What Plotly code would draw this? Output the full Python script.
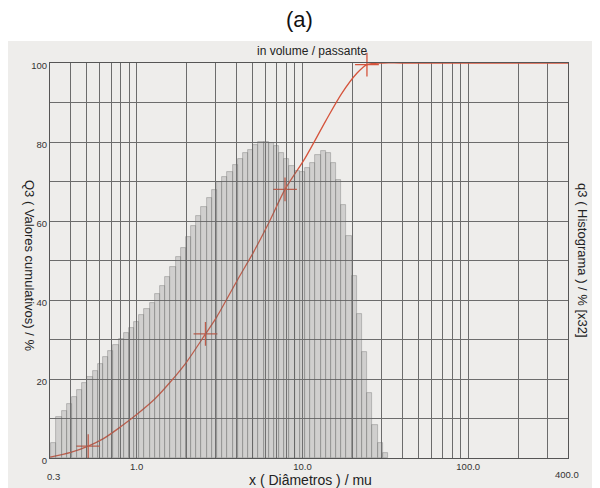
import math
import plotly.graph_objects as go

# ---- data ----
# class boundaries of the histogram (micrometres)
class_edges = [0.305, 0.3278, 0.3522, 0.3785, 0.4067, 0.4371, 0.4697, 0.5047, 0.5424, 0.5829,
               0.6263, 0.6730, 0.7233, 0.7772, 0.8352, 0.8975, 0.9645, 1.0365, 1.1138, 1.1969,
               1.2862, 1.3821, 1.4853, 1.5961, 1.7151, 1.8431, 1.9806, 2.1284, 2.2872, 2.4578,
               2.6412, 2.8382, 3.05, 3.278, 3.522, 3.785, 4.067, 4.371, 4.697, 5.047,
               5.424, 5.829, 6.263, 6.730, 7.233, 7.772, 8.352, 8.975, 9.645, 10.365,
               11.138, 11.969, 12.862, 13.821, 14.853, 15.961, 17.151, 18.431, 19.806, 21.284,
               22.872, 24.578, 26.412, 28.382, 30.5, 32.78]
# histogram heights q3 (% , x32)
q3_hist = [3.8, 10.4, 12.0, 13.7, 15.4, 17.2, 18.9, 20.5, 22.1, 23.8,
           25.5, 27.2, 28.7, 30.2, 31.6, 33.0, 34.5, 36.1, 37.6, 39.3,
           41.5, 43.6, 45.7, 48.4, 50.8, 53.2, 56.0, 58.7, 61.2, 63.6,
           65.7, 67.8, 70.0, 71.1, 72.5, 74.2, 75.6, 77.1, 78.1, 79.2,
           79.9, 80.1, 79.8, 79.0, 77.3, 75.6, 73.8, 72.7, 72.5, 73.3,
           74.8, 76.7, 77.7, 77.1, 74.6, 70.4, 64.1, 56.2, 46.0, 36.5,
           26.8, 16.4, 8.4, 3.7, 1.2]
# cumulative curve Q3 (%)
curve_x = [0.3, 0.4, 0.51, 0.63, 0.8, 1.0, 1.29, 1.6, 2.0, 2.6, 3.05, 4.07, 5.05,
           6.26, 7.85, 10.4, 13.8, 17.2, 21.3, 24.5, 30.5, 40, 400]
curve_q3 = [0.2, 1.4, 3.0, 4.9, 7.9, 11.0, 15.0, 19.3, 24.3, 31.4, 35.8, 45.2, 52.0,
            59.5, 68.0, 76.0, 85.3, 92.2, 97.4, 99.6, 100, 100, 100]
marker_x = [0.51, 2.6, 7.85, 24.5]
marker_q3 = [3.0, 31.4, 68.0, 99.6]

grid_x = [0.4, 0.5, 0.6, 0.7, 0.8, 0.9, 1, 2, 3, 4, 5, 6, 7, 8, 9,
          10, 20, 30, 40, 50, 60, 70, 80, 90, 100, 200, 300]
x_labels = {1: "1.0", 10: "10.0", 100: "100.0"}
grid_y = [0, 10, 20, 30, 40, 50, 60, 70, 80, 90, 100]
y_labels = {0: "0", 20: "20", 40: "40", 60: "60", 80: "80", 100: "100"}

X_MIN, X_MAX = 0.3, 400

# ---- figure ----
FONT = "Liberation Sans, Arial, sans-serif"
PAPER = "#eeedeb"
GRID = "#6c6c6c"
RED = "#d5543c"

log_edges = [math.log10(e) for e in class_edges]
bar_centers = [(a + b) / 2 for a, b in zip(log_edges[:-1], log_edges[1:])]
bar_widths = [b - a for a, b in zip(log_edges[:-1], log_edges[1:])]

fig = go.Figure()
fig.add_trace(go.Bar(
    x=bar_centers, y=q3_hist, width=bar_widths, xaxis="x2", yaxis="y",
    marker=dict(color="rgba(125,125,125,0.26)",
                line=dict(color="rgba(100,100,100,0.42)", width=0.8)),
    showlegend=False, hoverinfo="skip"))
fig.add_trace(go.Scatter(
    x=curve_x, y=curve_q3, mode="lines",
    line=dict(color=RED, width=1.3, shape="spline", smoothing=0.8),
    cliponaxis=False, showlegend=False))
fig.add_trace(go.Scatter(
    x=marker_x, y=marker_q3, mode="markers",
    marker=dict(symbol="cross-thin", size=17, line=dict(color=RED, width=1.3)),
    cliponaxis=False, showlegend=False))

# the page body has an 8px margin, so the figure is 8px smaller than the window
fig.update_layout(
    width=592, height=480,
    margin=dict(l=42, r=32, t=55, b=30),
    paper_bgcolor="white", plot_bgcolor=PAPER,
    font=dict(family=FONT, color="#222"),
    bargap=0,
    xaxis=dict(type="log", range=[math.log10(X_MIN), math.log10(X_MAX)],
               tickmode="array", tickvals=grid_x,
               ticktext=[x_labels.get(v, "") for v in grid_x],
               tickfont=dict(size=9.5, color="#333"),
               showgrid=True, gridcolor=GRID, gridwidth=1,
               showline=True, mirror=True, linecolor="#555", linewidth=1,
               ticks="", zeroline=False),
    xaxis2=dict(overlaying="x", range=[math.log10(X_MIN), math.log10(X_MAX)],
                visible=False, showgrid=False),
    yaxis=dict(range=[0, 100], tickmode="array", tickvals=grid_y,
               ticktext=[y_labels.get(v, "") for v in grid_y],
               tickfont=dict(size=9.5, color="#333"), ticklabelshift=3,
               showgrid=True, gridcolor=GRID, gridwidth=1,
               showline=True, mirror=True, linecolor="#555", linewidth=1,
               ticks="", zeroline=False),
    shapes=[dict(type="rect", xref="paper", yref="paper",
                 x0=-0.083, x1=1.07, y0=-0.09, y1=1.0557,
                 fillcolor=PAPER, line=dict(width=0), layer="below")],
)

ann = [
    dict(text="(a)", x=0.4826, y=1.109, font=dict(size=22, color="#111")),
    dict(text="in volume / passante", x=0.5058, y=1.0304, font=dict(size=12)),
    dict(text="x ( Diâmetros ) / mu", x=0.502, y=-0.0557, font=dict(size=14)),
    dict(text="0.3", x=0.0058, y=-0.0456, font=dict(size=9.5, color="#333")),
    dict(text="400.0", x=0.998, y=-0.043, font=dict(size=9.5, color="#333")),
    dict(text="Q3 ( Valores cumulativos) / %", x=-0.0386, y=0.4886, textangle=90,
         font=dict(size=13)),
    dict(text="q3 ( Histograma ) / % [x32]", x=1.029, y=0.501, textangle=90,
         font=dict(size=13)),
]
for a in ann:
    fig.add_annotation(xref="paper", yref="paper", showarrow=False,
                       xanchor="center", yanchor="middle", **a)

fig.write_html("out.html")
